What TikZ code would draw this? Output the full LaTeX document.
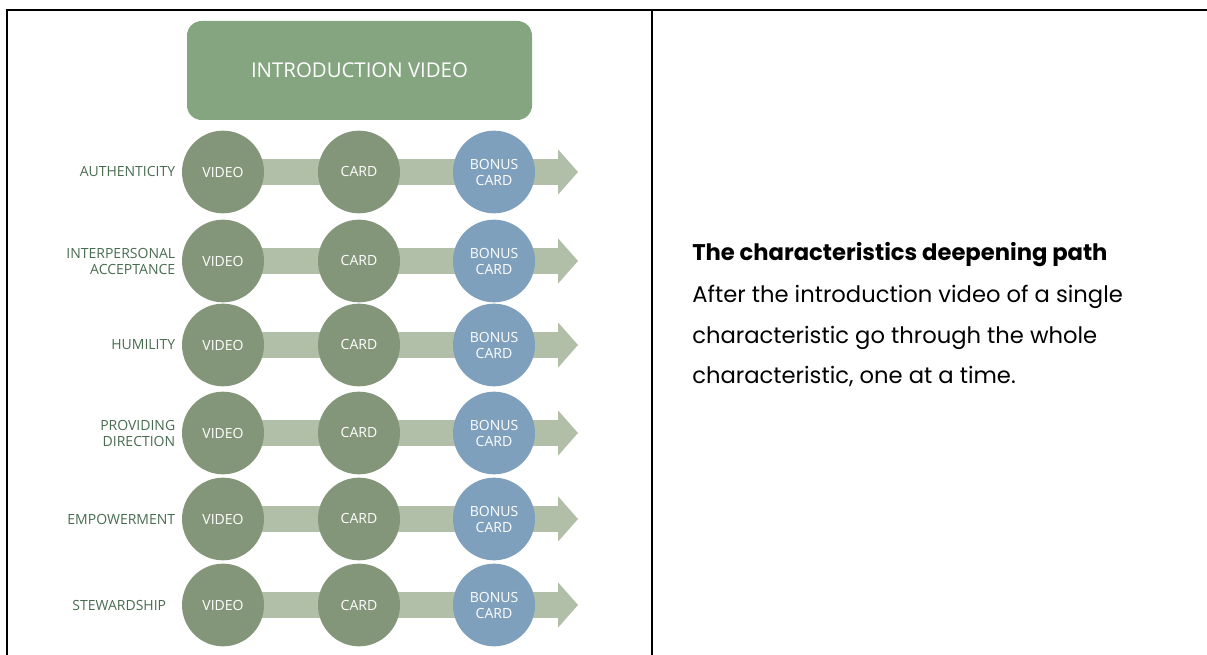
\documentclass[tikz,border=0pt]{standalone}
\usepackage{fontspec}
\setmainfont{Open Sans}
\newfontfamily\notefont{Poppins}
\usetikzlibrary{positioning,shapes.geometric,arrows.meta,backgrounds}
\definecolor{introgreen}{RGB}{132,165,128}
\definecolor{stepgreen}{RGB}{132,150,121}
\definecolor{bonusblue}{RGB}{127,160,188}
\definecolor{pathgreen}{RGB}{177,191,169}
\definecolor{labelgreen}{RGB}{72,108,80}

\tikzset{
  frameline/.style={line width=2.2pt, black},
  introbox/.style={rectangle, rounded corners=11pt, fill=introgreen, text=white,
    minimum width=258.75pt, minimum height=74.25pt, font=\fontsize{15.3}{18}\selectfont},
  stepdot/.style={ellipse, fill=stepgreen, text=white, minimum width=61.5pt, minimum height=62pt,
    inner sep=0pt, align=center, font=\fontsize{10.5}{12}\selectfont},
  bonusdot/.style={stepdot, fill=bonusblue},
  rowlabel/.style={text=labelgreen, align=right, inner sep=0pt, font=\fontsize{10.5}{12}\selectfont},
  patharrow/.style={pathgreen, line width=19.5pt,
    -{Triangle[length=15pt, width=34pt, line width=0pt]}},
  noteline/.style={anchor=base west, inner sep=0pt, font=\notefont\fontsize{17}{20}\selectfont}
}

\begin{document}
\begin{tikzpicture}[x=0.75pt, y=-0.75pt]
    \useasboundingbox (0,0) rectangle (1207,655);
    % Frame of the table
    \draw[frameline] (7,655) -- (7,10) -- (1207,10);
    \draw[frameline] (652,10) -- (652,655);

    % Left column: the path
    \node[introbox] (intro) at (359.5,70.5) {INTRODUCTION VIDEO};
    \foreach \y/\name/\gap [count=\i] in {172/AUTHENTICITY/4.7pt,
        261/{INTERPERSONAL\\ACCEPTANCE}/4.7pt, 345/HUMILITY/4.7pt,
        433/{PROVIDING\\DIRECTION}/4.7pt, 519/EMPOWERMENT/4.7pt,
        605/STEWARDSHIP/11.5pt} {
        \node[stepdot] (video\i) at (223,\y) {VIDEO};
        \node[stepdot] (card\i) at (359,\y) {CARD};
        \node[bonusdot] (bonus\i) at (494,\y) {BONUS\\CARD};
        \node[rowlabel, left=\gap of video\i] (label\i) {\name};
        \coordinate (tip\i) at (578,\y);
        \begin{scope}[on background layer]
            \draw[patharrow] (video\i.center) -- (tip\i);
        \end{scope}
    }

    % Right column: the note
    \node[noteline, font=\notefont\fontseries{sb}\selectfont\fontsize{17}{20}\selectfont]
        (notetitle) at (692,261) {The characteristics deepening path};
    \foreach \y/\line [count=\i] in {303/After the introduction video of a single,
        344/characteristic go through the whole,
        384/{characteristic, one at a time.}} {
        \node[noteline] (note\i) at (692,\y) {\line};
    }
\end{tikzpicture}
\end{document}
